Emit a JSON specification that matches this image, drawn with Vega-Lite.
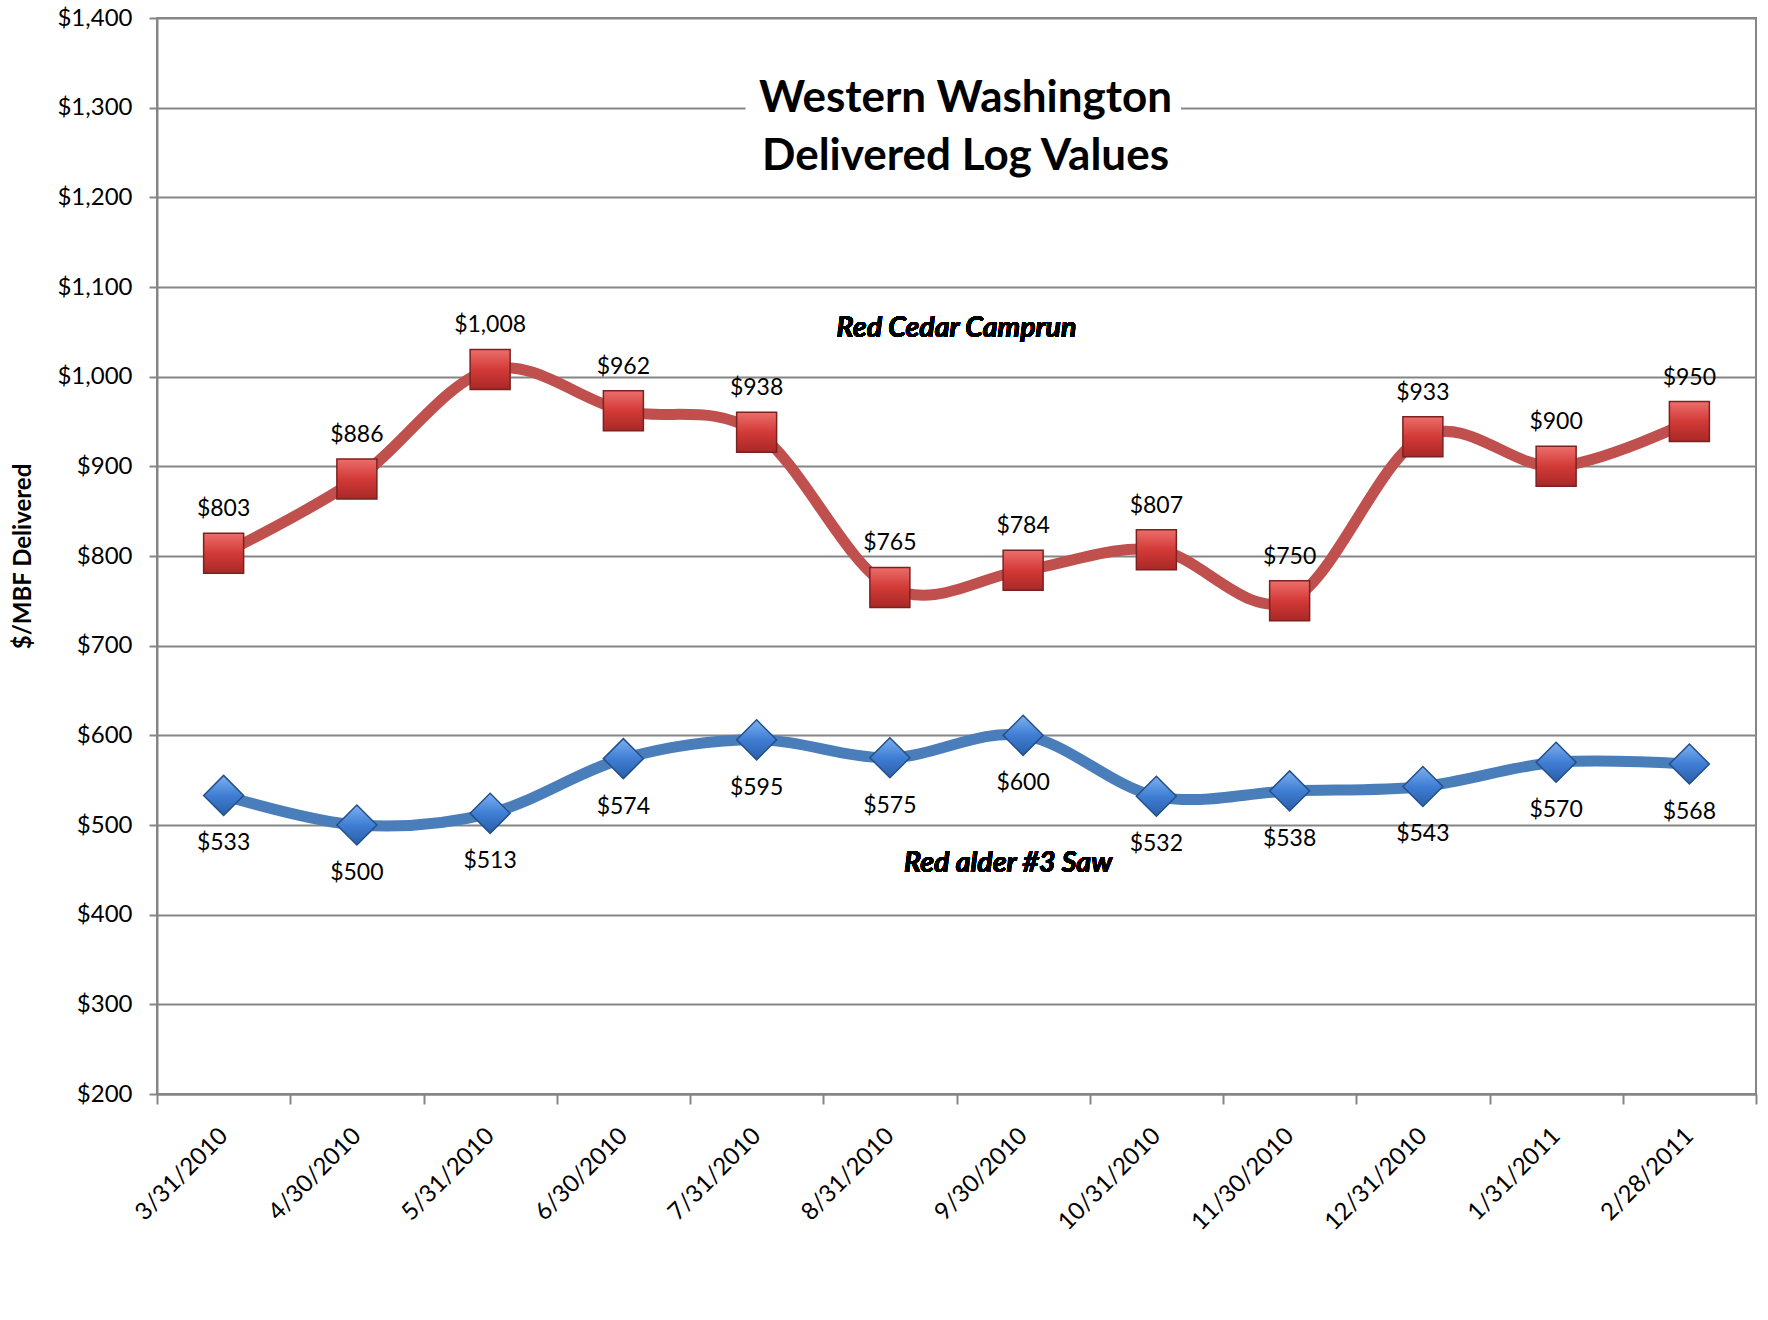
{
  "$schema": "https://vega.github.io/schema/vega-lite/v6.json",
  "width": 1599,
  "height": 1076,
  "autosize": {"type": "none"},
  "padding": {"left": 157, "top": 18, "right": 12, "bottom": 226},
  "background": "white",
  "config": {
    "font": "Lato",
    "view": {"stroke": "#868686", "strokeWidth": 2}
  },
  "title": {
    "text": ["Western Washington", "Delivered Log Values"],
    "font": "Lato",
    "fontSize": 44,
    "fontWeight": "bold",
    "color": "black",
    "lineHeight": 58,
    "anchor": "middle",
    "frame": "group",
    "offset": 0,
    "dx": 9,
    "dy": 173
  },
  "data": {
    "values": [
      {"date": "3/31/2010", "series": "Red Cedar Camprun", "value": 803},
      {"date": "4/30/2010", "series": "Red Cedar Camprun", "value": 886},
      {"date": "5/31/2010", "series": "Red Cedar Camprun", "value": 1008},
      {"date": "6/30/2010", "series": "Red Cedar Camprun", "value": 962},
      {"date": "7/31/2010", "series": "Red Cedar Camprun", "value": 938},
      {"date": "8/31/2010", "series": "Red Cedar Camprun", "value": 765},
      {"date": "9/30/2010", "series": "Red Cedar Camprun", "value": 784},
      {"date": "10/31/2010", "series": "Red Cedar Camprun", "value": 807},
      {"date": "11/30/2010", "series": "Red Cedar Camprun", "value": 750},
      {"date": "12/31/2010", "series": "Red Cedar Camprun", "value": 933},
      {"date": "1/31/2011", "series": "Red Cedar Camprun", "value": 900},
      {"date": "2/28/2011", "series": "Red Cedar Camprun", "value": 950},
      {"date": "3/31/2010", "series": "Red alder #3 Saw", "value": 533},
      {"date": "4/30/2010", "series": "Red alder #3 Saw", "value": 500},
      {"date": "5/31/2010", "series": "Red alder #3 Saw", "value": 513},
      {"date": "6/30/2010", "series": "Red alder #3 Saw", "value": 574},
      {"date": "7/31/2010", "series": "Red alder #3 Saw", "value": 595},
      {"date": "8/31/2010", "series": "Red alder #3 Saw", "value": 575},
      {"date": "9/30/2010", "series": "Red alder #3 Saw", "value": 600},
      {"date": "10/31/2010", "series": "Red alder #3 Saw", "value": 532},
      {"date": "11/30/2010", "series": "Red alder #3 Saw", "value": 538},
      {"date": "12/31/2010", "series": "Red alder #3 Saw", "value": 543},
      {"date": "1/31/2011", "series": "Red alder #3 Saw", "value": 570},
      {"date": "2/28/2011", "series": "Red alder #3 Saw", "value": 568}
    ]
  },
  "encoding": {
    "x": {
      "field": "date",
      "type": "ordinal",
      "scale": {
        "type": "band",
        "paddingInner": 0,
        "paddingOuter": 0,
        "domain": ["3/31/2010", "4/30/2010", "5/31/2010", "6/30/2010", "7/31/2010", "8/31/2010", "9/30/2010", "10/31/2010", "11/30/2010", "12/31/2010", "1/31/2011", "2/28/2011"]
      },
      "axis": {
        "title": null,
        "labelAngle": -45,
        "labelAlign": "right",
        "labelBaseline": "middle",
        "labelFontSize": 24,
        "labelFont": "Lato",
        "labelColor": "black",
        "labelPadding": 28,
        "tickBand": "extent",
        "tickSize": 10,
        "tickColor": "#868686",
        "tickWidth": 2,
        "domainColor": "#868686",
        "domainWidth": 2,
        "grid": false
      }
    },
    "y": {
      "field": "value",
      "type": "quantitative",
      "scale": {"domain": [200, 1400], "nice": false, "zero": false},
      "axis": {
        "values": [200, 300, 400, 500, 600, 700, 800, 900, 1000, 1100, 1200, 1300, 1400],
        "format": "$,.0f",
        "title": "$/MBF Delivered",
        "titleFont": "Lato",
        "titleFontSize": 24,
        "titleFontWeight": "bold",
        "titleColor": "black",
        "titleX": -134,
        "titleY": 538,
        "titleAlign": "center",
        "titleBaseline": "middle",
        "labelFontSize": 24,
        "labelFont": "Lato",
        "labelColor": "black",
        "labelPadding": 17,
        "tickSize": 8,
        "tickColor": "#868686",
        "tickWidth": 2,
        "domainColor": "#868686",
        "domainWidth": 2,
        "grid": true,
        "gridColor": "#868686",
        "gridWidth": 2
      }
    }
  },
  "layer": [
    {
      "mark": {"type": "rect", "fill": "white"},
      "encoding": {
        "x": {"datum": "7/31/2010", "bandPosition": 0.42},
        "x2": {"datum": "10/31/2010", "bandPosition": 0.68},
        "y": {"datum": 1290},
        "y2": {"datum": 1310}
      }
    },
    {
      "mark": {"type": "line", "interpolate": "cardinal", "strokeWidth": 11, "strokeCap": "round", "strokeJoin": "round"},
      "encoding": {
        "detail": {"field": "series"},
        "color": {
          "field": "series",
          "type": "nominal",
          "scale": {"domain": ["Red Cedar Camprun", "Red alder #3 Saw"], "range": ["#C0504D", "#4A7EBB"]},
          "legend": null
        }
      }
    },
    {
      "transform": [{"filter": "datum.series === 'Red Cedar Camprun'"}],
      "mark": {
        "type": "point",
        "shape": "square",
        "size": 1600,
        "filled": true,
        "opacity": 1,
        "fill": {"gradient": "linear", "x1": 0, "y1": 0, "x2": 0, "y2": 1, "stops": [{"offset": 0, "color": "#EC6E6B"}, {"offset": 0.5, "color": "#D23A37"}, {"offset": 1, "color": "#A82826"}]},
        "stroke": "#7A2220",
        "strokeWidth": 1.5
      }
    },
    {
      "transform": [{"filter": "datum.series === 'Red alder #3 Saw'"}],
      "mark": {
        "type": "point",
        "shape": "diamond",
        "size": 1600,
        "filled": true,
        "opacity": 1,
        "fill": {"gradient": "linear", "x1": 0, "y1": 0, "x2": 0, "y2": 1, "stops": [{"offset": 0, "color": "#7DB0F0"}, {"offset": 0.5, "color": "#3F7ED4"}, {"offset": 1, "color": "#2A5FA8"}]},
        "stroke": "#234F88",
        "strokeWidth": 1.5
      }
    },
    {
      "transform": [{"filter": "datum.series === 'Red Cedar Camprun'"}],
      "mark": {"type": "text", "font": "Lato", "fontSize": 23, "color": "black", "baseline": "middle", "align": "center", "dy": -44},
      "encoding": {"text": {"field": "value", "type": "quantitative", "format": "$,.0f"}}
    },
    {
      "transform": [{"filter": "datum.series === 'Red alder #3 Saw'"}],
      "mark": {"type": "text", "font": "Lato", "fontSize": 23, "color": "black", "baseline": "middle", "align": "center", "dy": 48},
      "encoding": {"text": {"field": "value", "type": "quantitative", "format": "$,.0f"}}
    },
    {
      "mark": {"type": "text", "font": "Lato", "fontSize": 28.5, "fontWeight": "bold", "fontStyle": "italic", "color": "black", "baseline": "middle", "align": "center"},
      "encoding": {
        "x": {"datum": "8/31/2010", "bandPosition": 1},
        "y": {"datum": 1054},
        "text": {"value": "Red Cedar Camprun"}
      }
    },
    {
      "mark": {"type": "text", "font": "Lato", "fontSize": 28.5, "fontWeight": "bold", "fontStyle": "italic", "color": "black", "baseline": "middle", "align": "center", "dx": -15},
      "encoding": {
        "x": {"datum": "9/30/2010"},
        "y": {"datum": 458},
        "text": {"value": "Red alder #3 Saw"}
      }
    }
  ]
}
